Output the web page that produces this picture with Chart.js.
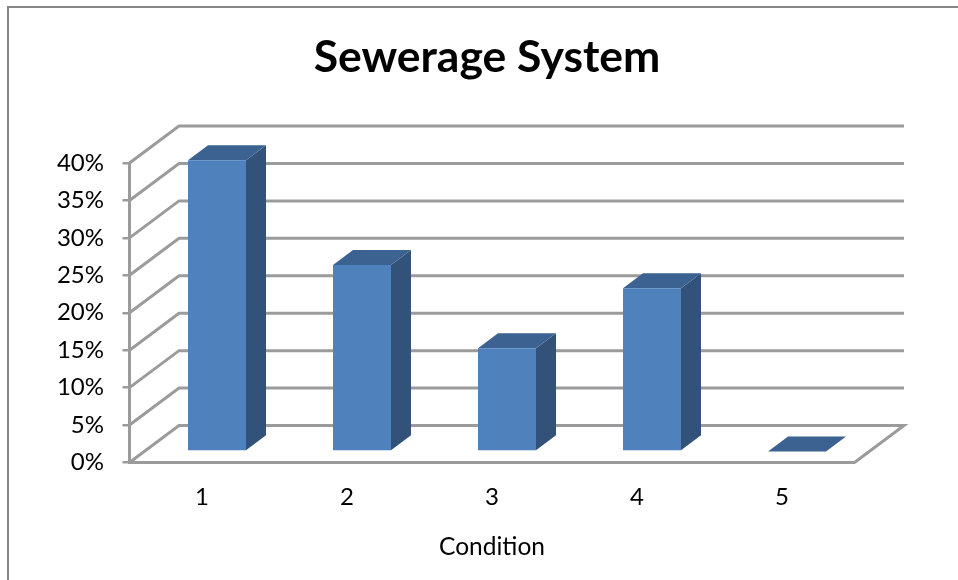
<!DOCTYPE html>
<html>
<head>
<meta charset="utf-8">
<title>Sewerage System</title>
<script src="https://cdn.jsdelivr.net/npm/chart.js@4/dist/chart.umd.min.js"></script>
<style>
  html, body { margin: 0; padding: 0; background: #fff; }
  #wrap { position: relative; width: 958px; height: 580px; overflow: hidden; }
  #frame { position: absolute; left: 7px; top: 6px; width: 960px; height: 600px; border: 2px solid #868686; }
  canvas { position: absolute; left: 0; top: 0; }
</style>
</head>
<body>
<div id="wrap">
  <div id="frame"></div>
  <canvas id="myChart" width="958" height="580"></canvas>
</div>
<script>
const categories = ['1', '2', '3', '4', '5'];
const condition = [38.9, 24.9, 13.8, 21.8, 0];

const GRID = '#9b9b9b';
const FRONT = '#4f81bd';
const SIDE = '#325279';
const TOP = '#3b6291';

// fake 3D: how far the back wall and the bars sit behind the front plane
const wall = { x: 49.5, y: -37 };
const barShift = { x: 15, y: -11 };
const barDepth = { x: 20, y: -15 };

function poly(ctx, pts, fill) {
  ctx.beginPath();
  pts.forEach((p, i) => i ? ctx.lineTo(p[0], p[1]) : ctx.moveTo(p[0], p[1]));
  ctx.closePath();
  ctx.fillStyle = fill;
  ctx.fill();
}

const threeD = {
  id: 'threeD',
  afterLayout(chart) {
    // title is centred on the whole frame, not on the plot
    chart.titleBlock.left = 16;
    chart.titleBlock.right = 958;
  },
  beforeDatasetsDraw(chart) {
    const { ctx, chartArea, scales } = chart;
    const y = scales.y;

    // walls and floor
    ctx.save();
    ctx.strokeStyle = GRID;
    ctx.lineWidth = 3;
    y.ticks.forEach((t) => {
      const py = y.getPixelForValue(t.value);
      ctx.beginPath();
      ctx.moveTo(chartArea.left, py);
      ctx.lineTo(chartArea.left + wall.x, py + wall.y);
      ctx.lineTo(chartArea.right + wall.x, py + wall.y);
      if (t.value === 0) ctx.lineTo(chartArea.right, py);
      ctx.stroke();
    });
    ctx.restore();

    // bars are drawn a little behind the front plane
    ctx.save();
    ctx.translate(barShift.x, barShift.y);
    chart.getDatasetMeta(0).data.forEach((bar) => {
      const l = bar.x - bar.width / 2;
      const r = bar.x + bar.width / 2;
      const d = barDepth;
      poly(ctx, [[r, bar.base], [r + d.x, bar.base + d.y], [r + d.x, bar.y + d.y], [r, bar.y]], SIDE);
      poly(ctx, [[l, bar.y], [l + d.x, bar.y + d.y], [r + d.x, bar.y + d.y], [r, bar.y]], TOP);
    });
  },
  afterDatasetsDraw(chart) {
    chart.ctx.restore();
  }
};

new Chart(document.getElementById('myChart'), {
  type: 'bar',
  data: {
    labels: categories,
    datasets: [{
      label: 'Condition',
      data: condition,
      backgroundColor: FRONT,
      borderWidth: 0,
      barPercentage: 0.4,
      categoryPercentage: 1
    }]
  },
  options: {
    responsive: false,
    animation: false,
    layout: { padding: { left: 30, right: 103.5, top: 0, bottom: 0 } },
    plugins: {
      legend: { display: false },
      tooltip: { enabled: false },
      title: {
        display: true,
        text: 'Sewerage System',
        color: '#000',
        font: { family: 'Lato', size: 44.5, weight: 'bold', lineHeight: 1.2 },
        padding: { top: 31, bottom: 78.6 }
      }
    },
    scales: {
      x: {
        grid: { display: false, drawTicks: false },
        border: { display: true, color: GRID, width: 3 },
        ticks: { color: '#000', font: { family: 'Lato', size: 24 }, padding: 20 },
        title: {
          display: true,
          text: 'Condition',
          color: '#000',
          font: { family: 'Lato', size: 24.5 },
          padding: { top: 21, bottom: 18 }
        },
        afterFit(scale) { scale.height = 117.5; }
      },
      y: {
        min: 0,
        max: 40,
        grid: { drawOnChartArea: false, color: GRID, lineWidth: 2.5, tickLength: 7 },
        border: { display: true, color: GRID, width: 3 },
        ticks: {
          stepSize: 5,
          color: '#000',
          font: { family: 'Lato', size: 24 },
          padding: 18.5,
          callback: (v) => v + '%'
        },
        afterFit(scale) { scale.width = 99.5; }
      }
    }
  },
  plugins: [threeD]
});
</script>
</body>
</html>
